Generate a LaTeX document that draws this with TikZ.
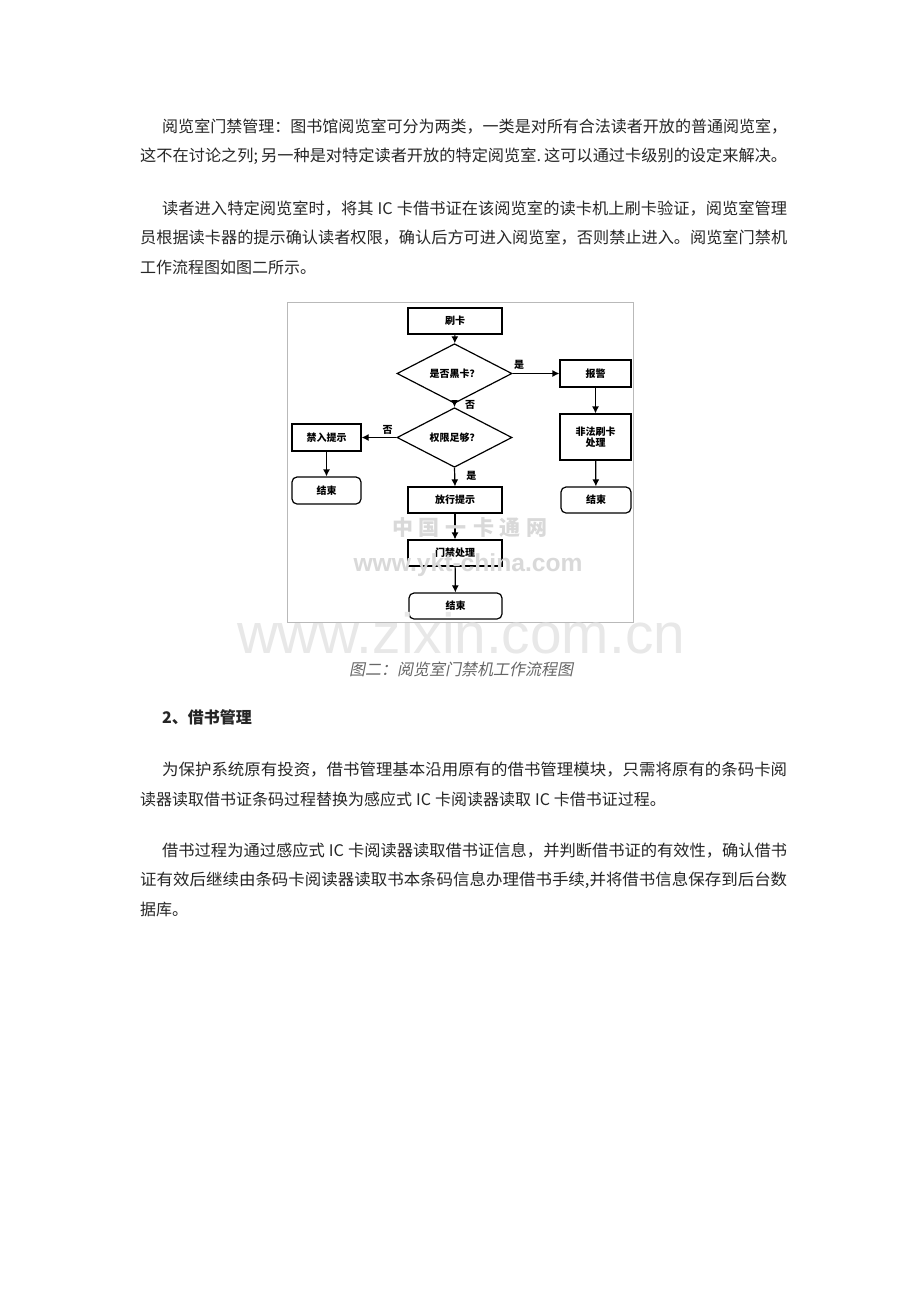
\documentclass[tikz,border=0pt]{standalone}
\usepackage{fontspec}
\setmainfont{Liberation Sans}
\newfontfamily\cjk{Noto Sans CJK SC}
\newfontfamily\cjkit{Noto Sans CJK SC}[FakeSlant=0.2]
\newfontfamily\wmfont{Liberation Sans}
\usetikzlibrary{shapes.geometric,arrows.meta}
\newsavebox\linebox
\newcommand\jline[3]{\node[body] (#3) at (#1,#2) {\sbox\linebox{\csname txt#3\endcsname}\pgfmathsetmacro\jratio{(787-#1)/\the\wd\linebox}\scalebox{\jratio}[1]{\usebox\linebox}};}
\newcommand\pline[3]{\node[body] (#3) at (#1,#2) {\csname txt#3\endcsname};}
\newcommand\ic{\hspace{4pt}IC\hspace{4pt}}
\tikzset{
  body/.style={font=\cjk\fontsize{16}{16}\selectfont, text=black!85, anchor=west, inner sep=0pt},
  fbox/.style={draw, line width=1.2pt, minimum width=94pt, minimum height=26pt, inner sep=1pt,
    font=\cjk\bfseries\fontsize{10}{11}\selectfont, align=center},
  rbox/.style={fbox, rounded corners=5pt},
  dia/.style={diamond, draw, line width=1.2pt, minimum width=115pt, minimum height=44pt, inner sep=0pt,
    font=\cjk\bfseries\fontsize{10}{11}\selectfont},
  arr/.style={line width=1.2pt, -{Latex[length=7pt,width=7pt]}},
  lab/.style={font=\cjk\bfseries\fontsize{10}{11}\selectfont, inner sep=1pt}
}
\def\txtla{阅览室门禁管理：图书馆阅览室可分为两类，一类是对所有合法读者开放的普通阅览室，}
\def\txtlb{这不在讨论之列;\hspace{3pt}另一种是对特定读者开放的特定阅览室.\hspace{3pt}这可以通过卡级别的设定来解决。}
\def\txtlc{读者进入特定阅览室时，将其\ic 卡借书证在该阅览室的读卡机上刷卡验证，阅览室管理}
\def\txtld{员根据读卡器的提示确认读者权限，确认后方可进入阅览室，否则禁止进入。阅览室门禁机}
\def\txtle{工作流程图如图二所示。}
\def\txtlf{为保护系统原有投资，借书管理基本沿用原有的借书管理模块，只需将原有的条码卡阅}
\def\txtlg{读器读取借书证条码过程替换为感应式\ic 卡阅读器读取\ic 卡借书证过程。}
\def\txtlh{借书过程为通过感应式\ic 卡阅读器读取借书证信息，并判断借书证的有效性，确认借书}
\def\txtli{证有效后继续由条码卡阅读器读取书本条码信息办理借书手续,并将借书信息保存到后台数}
\def\txtlj{据库。}
\begin{document}
\begin{tikzpicture}[x=1pt,y=-1pt]
\useasboundingbox (0,0) rectangle (920,1302);
\fill[white] (0,0) rectangle (920,1302);

% body text
\jline{162}{127}{la}
\jline{140}{156}{lb}
\jline{162}{209}{lc}
\jline{140}{238}{ld}
\pline{140}{267}{le}

% flowchart frame
\draw[gray!55, line width=1pt] (287,302) rectangle (633,622);

% nodes
\node[fbox] (sk) at (455,321) {刷卡};
\node[dia] (d1) at (454.5,373.5) {是否黑卡？};
\node[fbox, minimum width=71pt, minimum height=27pt] (bj) at (595.5,373.5) {报警};
\node[dia, minimum height=45pt] (d2) at (454.5,437.5) {权限足够？};
\node[fbox, minimum width=71pt, minimum height=46pt] (ff) at (595.5,437) {非法刷卡\\处理};
\node[fbox, minimum width=69pt, minimum height=27pt] (jr) at (326.5,437.5) {禁入提示};
\node[rbox, minimum width=69pt, minimum height=27pt] (e1) at (326.5,490.5) {结束};
\node[fbox] (fx) at (455,500) {放行提示};
\node[rbox, minimum width=70pt] (e2) at (596,500) {结束};
\node[fbox] (mj) at (455,553) {门禁处理};
\node[rbox, minimum width=93pt] (e3) at (455.5,606) {结束};

% connectors
\draw[arr] (sk) -- (d1);
\draw[arr] (d1.east) -- node[lab, pos=0, anchor=south west, yshift=2pt] {是} (bj.west);
\draw[arr] (d1.south) -- node[lab, pos=0.3, anchor=west, xshift=9pt] {否} (d2.north);
\draw[arr] (bj) -- (ff);
\draw[arr] (d2.west) -- node[lab, pos=0.25, above, yshift=1pt] {否} (jr.east);
\draw[arr] (jr) -- (e1);
\draw[arr] (d2.south) -- node[lab, pos=0.45, anchor=west, xshift=10pt] {是} (fx.north);
\draw[arr] (ff) -- (e2);
\draw[arr] (fx) -- (mj);
\draw[arr] (mj) -- (e3);

% watermarks
\node[text=gray!30, font=\cjk\bfseries\fontsize{21}{21}\selectfont, inner sep=0pt] (wm1) at (470,528) {中\hspace{6pt}国\hspace{6pt}一\hspace{6pt}卡\hspace{6pt}通\hspace{6pt}网};
\node[text=gray!30, font=\wmfont\bfseries\fontsize{22}{22}\selectfont, inner sep=0pt] (wm2) at (468,565) {\resizebox{229pt}{!}{www.ykt-china.com}};
\node[text=gray!18, font=\wmfont\fontsize{50}{50}\selectfont, inner sep=0pt, anchor=base] (wm3) at (461,653) {\resizebox{448pt}{!}{www.zixin.com.cn}};

% caption
\node[font=\cjkit\fontsize{16}{16}\selectfont, text=black!60, inner sep=0pt] (cap) at (461,669) {图二：阅览室门禁机工作流程图};

% heading
\node[body, font=\cjk\bfseries\fontsize{16}{16}\selectfont] (h2) at (162,717) {2、借书管理};

\jline{162}{770}{lf}
\pline{140}{799}{lg}
\jline{162}{851}{lh}
\jline{140}{880}{li}
\pline{140}{909}{lj}
\end{tikzpicture}
\end{document}
